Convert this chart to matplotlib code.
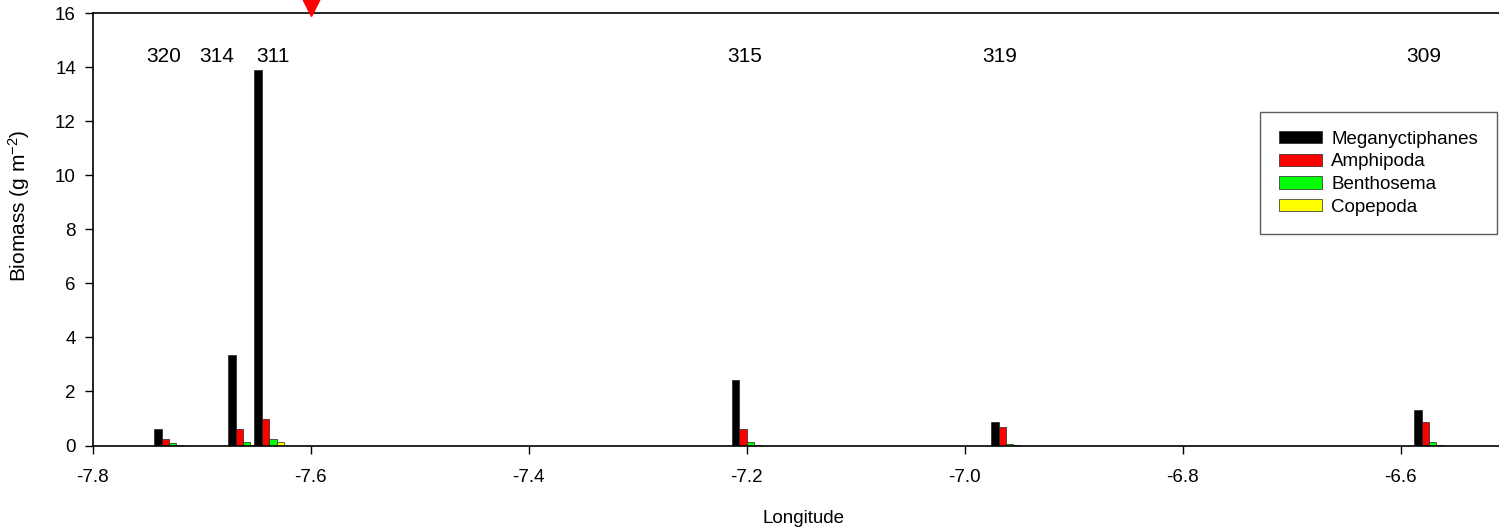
import numpy as np
import matplotlib
matplotlib.use("Agg")
import matplotlib.pyplot as plt

plt.rcParams['font.family'] = ['Liberation Sans', 'DejaVu Sans']
plt.rcParams['mathtext.fontset'] = 'custom'
plt.rcParams['mathtext.rm'] = 'Liberation Sans'
plt.rcParams['mathtext.default'] = 'regular'

# station longitudes (group centres) and station numbers
stations = ["320", "314", "311", "315", "319", "309"]
longitude = [-7.730, -7.662, -7.638, -7.200, -6.962, -6.574]

# biomass (g m-2) per taxon at each station
meganyctiphanes = [0.60, 3.34, 13.91, 2.43, 0.87, 1.31]
amphipoda = [0.24, 0.60, 0.98, 0.61, 0.68, 0.87]
benthosema = [0.08, 0.14, 0.24, 0.13, 0.05, 0.13]
copepoda = [0.01, 0.01, 0.12, 0.01, 0.01, 0.01]

# where the station numbers are written (x in longitude, y in biomass)
label_x = [-7.735, -7.686, -7.635, -7.202, -6.968, -6.579]
label_y = 14.4

# red marker at top of plot
marker_lon = -7.6

series = [meganyctiphanes, amphipoda, benthosema, copepoda]
names = ["Meganyctiphanes", "Amphipoda", "Benthosema", "Copepoda"]
colors = ["#000000", "#ff0000", "#00ff00", "#ffff00"]

fig = plt.figure(figsize=(14.99, 5.31), dpi=100)
ax = fig.add_axes([0.0618, 0.161, 0.9482, 0.8145])

w = 0.0068
lon = np.array(longitude)
for k, (vals, name, c) in enumerate(zip(series, names, colors)):
    ax.bar(lon + (k - 1.5) * w, vals, width=w, color=c, edgecolor="#222222",
           linewidth=0.5, label=name, align="center")

for s, x in zip(stations, label_x):
    ax.text(x, label_y, s, ha="center", va="center", fontsize=15)

ax.plot([marker_lon], [16.42], marker="v", color="#ff0000", markersize=20,
        clip_on=False, zorder=5)

ax.set_xlim(-7.8, -6.496)
ax.set_ylim(0, 16)
ax.set_xticks([-7.8, -7.6, -7.4, -7.2, -7.0, -6.8, -6.6])
ax.set_xticklabels(["-7.8", "-7.6", "-7.4", "-7.2", "-7.0", "-6.8", "-6.6"])
ax.set_yticks(range(0, 17, 2))
ax.tick_params(direction="out", length=6, width=1, labelsize=13.5, pad=6)
ax.tick_params(axis="x", pad=11)
ax.spines["right"].set_visible(False)
for sp in ["left", "bottom", "top"]:
    ax.spines[sp].set_linewidth(1.2)

ax.set_xlabel("Longitude", fontsize=13.5, labelpad=17)
ax.set_ylabel("Biomass (g m$^{-2}$)", fontsize=15)
ax.yaxis.set_label_coords(-0.043, 0.554)

leg = ax.legend(loc="upper left", bbox_to_anchor=(1260 / 1499, 1 - 112 / 531),
                bbox_transform=fig.transFigure, fontsize=13.5, frameon=True,
                fancybox=False, borderaxespad=0, borderpad=1.0,
                handlelength=2.3, handleheight=0.65, handletextpad=0.5,
                labelspacing=0.3)
leg.get_frame().set_edgecolor("#333333")
leg.get_frame().set_linewidth(1.0)

fig.savefig("out.png", dpi=100)
